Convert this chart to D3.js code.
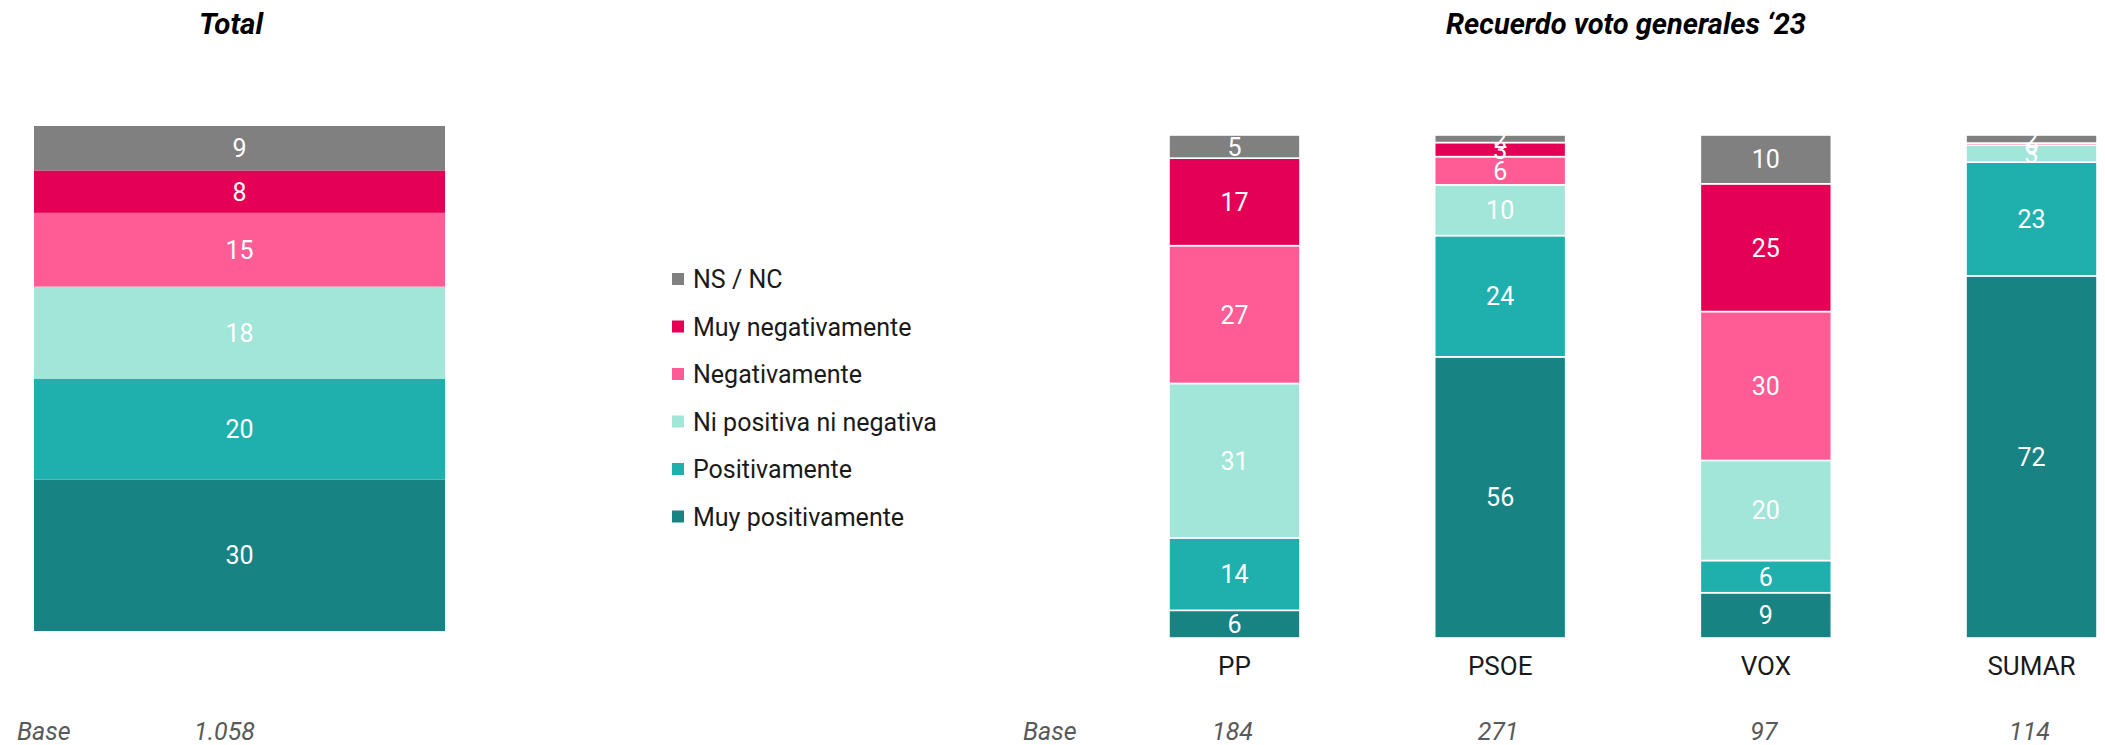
<!DOCTYPE html>
<html>
<head>
<meta charset="utf-8">
<script src="https://cdn.jsdelivr.net/npm/d3@7"></script>
<style>
    html, body { margin: 0; padding: 0; background: #fff; }
    svg { display: block; font-family: Roboto, "Noto Sans", sans-serif; }
</style>
</head>
<body>
<div id="chart"></div>
<script>
// answer categories, top of the stack first (same order as the legend)
const categories = ["NS / NC", "Muy negativamente", "Negativamente", "Ni positiva ni negativa", "Positivamente", "Muy positivamente"];
const colors     = ["#808080", "#e40055", "#ff5b95", "#a1e6d8", "#1fafad", "#178383"];

const parties    = ["PP", "PSOE", "VOX", "SUMAR"];

// % per category, same order as categories
const totalValues = [8.8, 8.4, 14.6, 18.3, 19.9, 30.0];
const ppValues    = [4.6, 17.4, 27.4, 30.7, 14.4, 5.5];
const psoeValues  = [1.5, 2.8, 5.6, 10.1, 24.1, 55.9];
const voxValues   = [9.7, 25.4, 29.6, 19.9, 6.4, 9.0];
const sumarValues = [1.6, 0.4, 0.0, 3.4, 22.6, 72.0];

const totalBase   = "1.058";
const partyBases  = ["184", "271", "97", "114"];

const width  = 2105,
      height = 745;

const svg = d3.select("#chart").append("svg")
    .attr("width", width)
    .attr("height", height);

// stack goes bottom -> top, so reverse the category order
const stackKeys = categories.slice().reverse();
const color     = d3.scaleOrdinal().domain(categories).range(colors);

function toRow(name, values) {
    const row = { name: name };
    categories.forEach((c, i) => row[c] = values[i]);
    return row;
}

const stack = d3.stack().keys(stackKeys);

function drawStacks(g, rows, x, y, sep) {
    const layers = g.selectAll("g.layer")
        .data(stack(rows))
        .join("g")
        .attr("class", "layer")
        .attr("fill", d => color(d.key));

    layers.selectAll("rect")
        .data(d => d)
        .join("rect")
        .attr("x", d => x(d.data.name))
        .attr("width", x.bandwidth())
        .attr("y", d => y(d[1]))
        .attr("height", d => y(d[0]) - y(d[1]))
        .attr("stroke", sep ? "#fff" : "none")
        .attr("stroke-width", sep ? 1.6 : 0);

    layers.selectAll("text")
        .data(d => d.map(p => ({ p: p, key: d.key })))
        .join("text")
        .attr("x", d => x(d.p.data.name) + x.bandwidth() / 2)
        .attr("y", d => (y(d.p[0]) + y(d.p[1])) / 2)
        .attr("dy", "0.36em")
        .attr("text-anchor", "middle")
        .attr("fill", "#fff")
        .style("font-size", "25px")
        .text(d => Math.round(d.p.data[d.key]));
}

// ---- Total panel
const xTotal = d3.scaleBand().domain(["Total"]).range([34, 445]);
const yTotal = d3.scaleLinear().domain([0, 100]).range([631, 126]);

drawStacks(svg.append("g"), [toRow("Total", totalValues)], xTotal, yTotal, false);

svg.append("text")
    .attr("x", 231)
    .attr("y", 34)
    .attr("text-anchor", "middle")
    .style("font-size", "29px")
    .style("font-weight", "bold")
    .style("font-style", "italic")
    .attr("textLength", 64)
    .attr("lengthAdjust", "spacingAndGlyphs")
    .text("Total");

// ---- party panel
const partyRows = [ppValues, psoeValues, voxValues, sumarValues].map((v, i) => toRow(parties[i], v));

const xParty = d3.scaleBand().domain(parties).range([1169, 2097]).paddingInner(0.507).paddingOuter(0);
const yParty = d3.scaleLinear().domain([0, 100]).range([638, 135]);

drawStacks(svg.append("g"), partyRows, xParty, yParty, true);

svg.append("text")
    .attr("x", 1626)
    .attr("y", 34)
    .attr("text-anchor", "middle")
    .style("font-size", "29px")
    .style("font-weight", "bold")
    .style("font-style", "italic")
    .attr("textLength", 360)
    .attr("lengthAdjust", "spacingAndGlyphs")
    .text("Recuerdo voto generales \u201823");

// category labels under the bars
const xAxis = d3.axisBottom(xParty).tickSize(0).tickPadding(0);
svg.append("g")
    .attr("transform", "translate(0,657)")
    .call(xAxis)
    .call(g => g.select(".domain").remove())
    .selectAll("text")
    .attr("dy", "0.71em")
    .attr("fill", "#1a1a1a")
    .style("font-size", "26px")
    .style("font-family", "Roboto, sans-serif");

// ---- legend
const legend = svg.append("g")
    .attr("transform", "translate(672,279)")
    .selectAll("g")
    .data(categories)
    .join("g")
    .attr("transform", (d, i) => `translate(0,${i * 47.5})`);

legend.append("rect")
    .attr("x", 0)
    .attr("y", -6)
    .attr("width", 12)
    .attr("height", 12)
    .attr("fill", d => color(d));

legend.append("text")
    .attr("x", 21)
    .attr("dy", "0.36em")
    .attr("fill", "#1a1a1a")
    .style("font-size", "25px")
    .text(d => d);

// ---- base row
const baseRow = svg.append("g")
    .style("font-size", "25px")
    .style("font-style", "italic")
    .attr("fill", "#595959");

baseRow.append("text").attr("x", 17).attr("y", 740).text("Base");
baseRow.append("text").attr("x", 1023).attr("y", 740).text("Base");

baseRow.append("text")
    .attr("x", xTotal("Total") + xTotal.bandwidth() / 2 - 15)
    .attr("y", 740)
    .attr("text-anchor", "middle")
    .text(totalBase);

baseRow.selectAll("text.pb")
    .data(partyBases)
    .join("text")
    .attr("class", "pb")
    .attr("x", (d, i) => xParty(parties[i]) + xParty.bandwidth() / 2 - 2)
    .attr("y", 740)
    .attr("text-anchor", "middle")
    .text(d => d);
</script>
</body>
</html>
